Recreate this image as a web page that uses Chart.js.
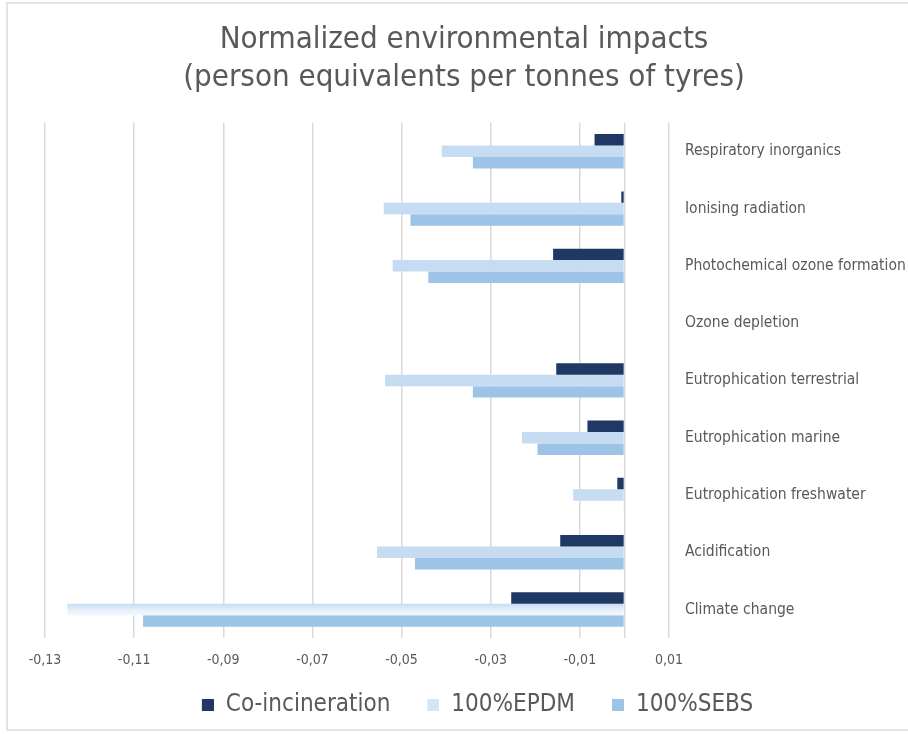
<!DOCTYPE html>
<html>
<head>
<meta charset="utf-8">
<script src="https://cdn.jsdelivr.net/npm/chart.js@4.4.1/dist/chart.umd.min.js"></script>
<style>
  html, body { margin: 0; padding: 0; background: #fff; }
  #wrap { position: relative; width: 908px; height: 734px; }
  #frame { position: absolute; left: 6px; top: 2px; width: 910px; height: 729px;
           border: 2px solid #e3e3e3; box-sizing: border-box; pointer-events: none; }
</style>
</head>
<body>
<div id="wrap">
  <canvas id="chart" width="908" height="734"></canvas>
  <div id="frame"></div>
</div>
<script>
// categories, top to bottom as in the picture
var categories = [
  'Respiratory inorganics',
  'Ionising radiation',
  'Photochemical ozone formation',
  'Ozone depletion',
  'Eutrophication terrestrial',
  'Eutrophication marine',
  'Eutrophication freshwater',
  'Acidification',
  'Climate change'
];

// person equivalents per tonne of tyres
var coIncineration = [-0.0067, -0.0007, -0.0160, 0, -0.0153, -0.0083, -0.0016, -0.0144, -0.0254];
var epdm100 = [-0.0410, -0.0540, -0.0520, 0, -0.0537, -0.0230, -0.0115, -0.0555, -0.1250];
var sebs100 = [-0.0340, -0.0480, -0.0440, 0, -0.0340, -0.0195, -0.0002, -0.0470, -0.1080];

var xTicks = [-0.13, -0.11, -0.09, -0.07, -0.05, -0.03, -0.01, 0, 0.01];

var fontName = "'Liberation Sans Narrow', 'DejaVu Sans Condensed', 'Liberation Sans', sans-serif";
var grey = '#595959';
var colors = ['#1f3864', '#d3e5f7', '#9dc3e6'];

// legend marker: small square at the right of a wider transparent box,
// so the legend items get the wide spacing of the original
function legendMark(color) {
  var c = document.createElement('canvas');
  c.width = 39;
  c.height = 12;
  var g = c.getContext('2d');
  g.fillStyle = color;
  g.fillRect(27, 0, 12, 12);
  return c;
}
var marks = colors.map(legendMark);

// light gradient on the 100%EPDM bars, like the spreadsheet fill
var gradientBars = {
  id: 'gradientBars',
  beforeDatasetsDraw: function(chart) {
    var ctx = chart.ctx;
    var meta = chart.getDatasetMeta(1);
    meta.data.forEach(function(bar) {
      var h = bar.height || 12;
      var top = bar.y - h / 2;
      var g = ctx.createLinearGradient(0, top, 0, top + h);
      g.addColorStop(0, '#c6dcf3');
      g.addColorStop(0.5, '#e3effb');
      g.addColorStop(1, '#f3f8fe');
      bar.options.backgroundColor = g;
    });
  }
};

new Chart(document.getElementById('chart'), {
  type: 'bar',
  data: {
    labels: categories,
    datasets: [
      { label: 'Co-incineration', data: coIncineration, backgroundColor: colors[0] },
      { label: '100%EPDM', data: epdm100, backgroundColor: colors[1] },
      { label: '100%SEBS', data: sebs100, backgroundColor: colors[2] }
    ]
  },
  options: {
    indexAxis: 'y',
    responsive: false,
    animation: false,
    layout: { padding: { left: 20, right: 0, top: 21, bottom: 7 } },
    datasets: { bar: { categoryPercentage: 0.6, barPercentage: 1.0 } },
    plugins: {
      title: {
        display: true,
        text: ['Normalized environmental impacts', '(person equivalents per tonnes of tyres)'],
        color: grey,
        font: { family: fontName, size: 31, weight: 'normal', lineHeight: 1.22 },
        padding: { top: 0, bottom: 26 }
      },
      legend: {
        position: 'bottom',
        labels: {
          color: grey,
          font: { family: fontName, size: 24 },
          usePointStyle: true,
          pointStyleWidth: 39,
          boxHeight: 12,
          padding: 10,
          generateLabels: function(chart) {
            var items = Chart.defaults.plugins.legend.labels.generateLabels(chart);
            items.forEach(function(it, i) { it.pointStyle = marks[i]; });
            return items;
          }
        }
      },
      tooltip: { enabled: false }
    },
    scales: {
      x: {
        min: -0.13,
        max: 0.01,
        afterBuildTicks: function(scale) {
          scale.ticks = xTicks.map(function(v) { return { value: v }; });
        },
        ticks: {
          color: grey,
          font: { family: fontName, size: 14 },
          padding: 14,
          callback: function(v) {
            if (Math.abs(v) < 1e-9) return '';
            return v.toFixed(2).replace('.', ',');
          }
        },
        grid: { color: '#d9d9d9', lineWidth: 1.5, drawTicks: false },
        border: { display: false }
      },
      // empty spacer on the left so the plot starts where the original does
      yPad: {
        type: 'category',
        position: 'left',
        afterFit: function(scale) { scale.width = 25; },
        ticks: { display: false },
        grid: { display: false },
        border: { display: false }
      },
      y: {
        position: 'right',
        afterFit: function(scale) { scale.width = 239; },
        ticks: {
          color: grey,
          font: { family: fontName, size: 15.5 },
          padding: 8
        },
        grid: { display: false },
        border: { display: false }
      }
    }
  },
  plugins: [gradientBars]
});
</script>
</body>
</html>
